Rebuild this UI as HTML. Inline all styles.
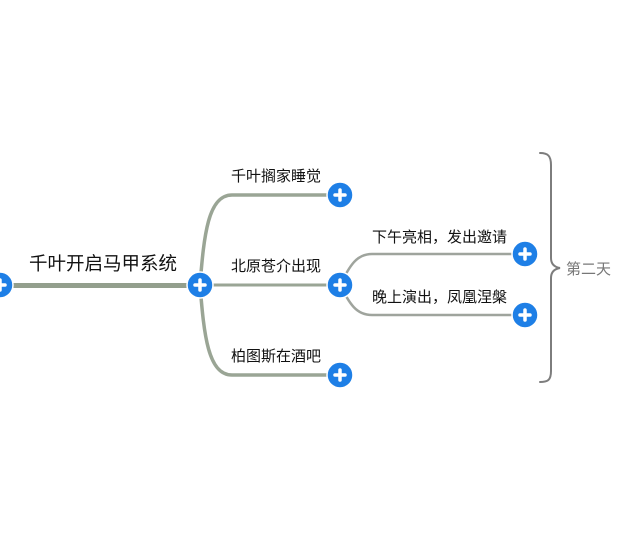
<!DOCTYPE html>
<html><head><meta charset="utf-8"><style>
html,body{margin:0;padding:0;background:#fff;width:640px;height:546px;overflow:hidden}
svg text{font-family:"Liberation Sans","Noto Sans CJK SC",sans-serif}
</style></head><body>
<svg width="640" height="546" viewBox="0 0 640 546" xmlns="http://www.w3.org/2000/svg">
<g fill="none" stroke-linecap="round">
<line x1="0" y1="285.5" x2="200" y2="285.5" stroke="#939f8d" stroke-width="5"/>
<path d="M200 285 C204 235,208 195,232 195 L340 195" stroke="#9aa595" stroke-width="3.5"/>
<path d="M200 285 L340 285" stroke="#9aa595" stroke-width="3"/>
<path d="M200 285 C204 335,208 375,232 375 L340 375" stroke="#9aa595" stroke-width="3.5"/>
<path d="M340 285 C350 266,356 254,372 254 L525 254" stroke="#9fa49d" stroke-width="2.5"/>
<path d="M340 285 C350 304,356 315,372 315 L525 315" stroke="#9fa49d" stroke-width="2.5"/>
<path d="M540 153 C548 153,551 156,551 165 L551 258 C551 264,554 267,560 268 C554 269,551 272,551 278 L551 371 C551 380,548 382,540 382" stroke="#7d7d7d" stroke-width="2"/>
</g>
<g fill="#1e7fe6" stroke="#fff" stroke-width="1.5">
<circle cx="0" cy="285" r="13"/>
<circle cx="200" cy="285" r="13"/>
<circle cx="340" cy="195" r="13"/>
<circle cx="340" cy="285" r="13"/>
<circle cx="340" cy="375" r="13"/>
<circle cx="525" cy="254" r="13"/>
<circle cx="525" cy="315" r="13"/>
</g>
<g stroke="#fff" stroke-width="3.5" stroke-linecap="round">
<path d="M-5 285h10M0 280v10"/>
<path d="M195 285h10M200 280v10"/>
<path d="M335 195h10M340 190v10"/>
<path d="M335 285h10M340 280v10"/>
<path d="M335 375h10M340 370v10"/>
<path d="M520 254h10M525 249v10"/>
<path d="M520 315h10M525 310v10"/>
</g>
<text x="29" y="270" font-size="18.5" fill="#111">千叶开启马甲系统</text>
<text x="231" y="181" font-size="15" fill="#111">千叶搁家睡觉</text>
<text x="231" y="271" font-size="15" fill="#111">北原苍介出现</text>
<text x="231" y="361" font-size="15" fill="#111">柏图斯在酒吧</text>
<text x="372" y="242" font-size="15" fill="#111">下午亮相，发出邀请</text>
<text x="372" y="302" font-size="15" fill="#111">晚上演出，凤凰涅槃</text>
<text x="566" y="274" font-size="15" fill="#777">第二天</text>
</svg>
</body></html>
